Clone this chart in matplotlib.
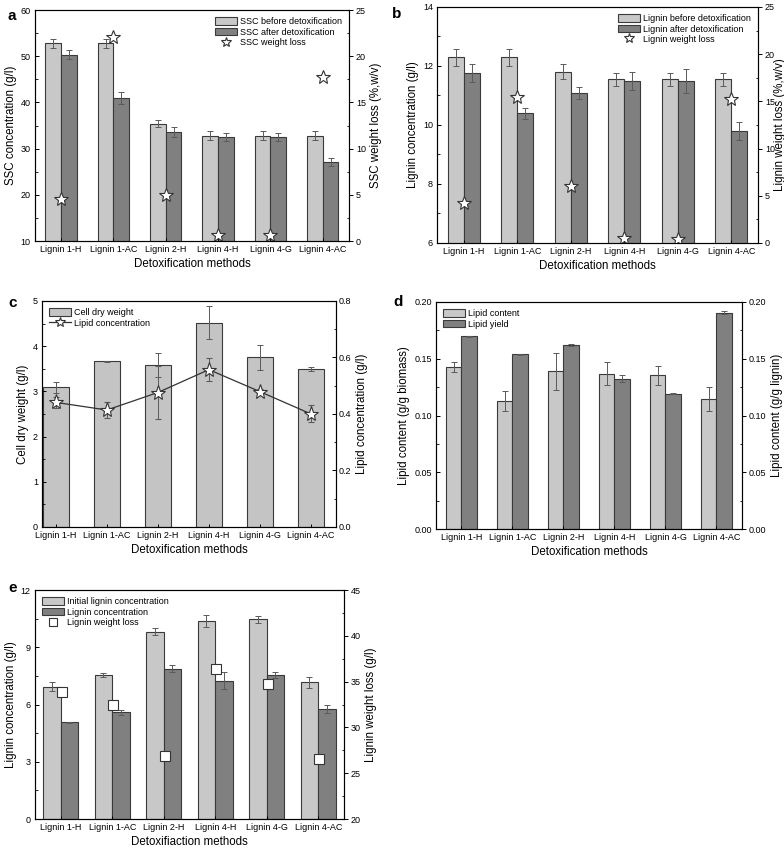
import numpy as np
import matplotlib
matplotlib.use('Agg')
import matplotlib.pyplot as plt
from matplotlib.patches import Patch
from matplotlib.lines import Line2D

plt.rcParams['font.family'] = ['Liberation Sans', 'DejaVu Sans']
plt.rcParams['font.size'] = 6.5

methods = ['Lignin 1-H', 'Lignin 1-AC', 'Lignin 2-H', 'Lignin 4-H', 'Lignin 4-G', 'Lignin 4-AC']

# a: SSC
ssc_before = [52.8, 52.8, 35.4, 32.8, 32.8, 32.8]
ssc_before_err = [1.0, 1.0, 0.8, 1.0, 1.0, 1.0]
ssc_after = [50.3, 41.0, 33.6, 32.5, 32.5, 27.1]
ssc_after_err = [1.0, 1.3, 1.1, 0.8, 0.8, 0.8]
ssc_loss = [4.6, 22.1, 5.0, 0.6, 0.6, 17.7]

# b: lignin
lig_before = [12.29, 12.29, 11.81, 11.55, 11.55, 11.55]
lig_before_err = [0.3, 0.3, 0.25, 0.22, 0.22, 0.22]
lig_after = [11.77, 10.39, 11.09, 11.49, 11.50, 9.79]
lig_after_err = [0.3, 0.2, 0.2, 0.3, 0.4, 0.3]
lig_loss = [4.2, 15.5, 6.0, 0.5, 0.4, 15.2]

# c: cell dry weight / lipid concentration
cdw = [3.09, 3.67, 3.58, 4.52, 3.75, 3.50]
cdw_err = [0.12, 0.01, 0.26, 0.36, 0.28, 0.04]
lipid_conc = [0.441, 0.414, 0.476, 0.557, 0.479, 0.400]
lipid_conc_err = [0.02, 0.028, 0.093, 0.04, 0.01, 0.03]

# d: lipid content / yield
lipid_content = [0.1427, 0.1127, 0.1389, 0.1369, 0.1354, 0.1148]
lipid_content_err = [0.0047, 0.0088, 0.016, 0.010, 0.0085, 0.0107]
lipid_yield = [0.1697, 0.1539, 0.1618, 0.1325, 0.1192, 0.1906]
lipid_yield_err = [0.0002, 0.0005, 0.001, 0.003, 0.0005, 0.0015]

# e: lignin consumption
init_lig = [6.93, 7.53, 9.82, 10.39, 10.46, 7.16]
init_lig_err = [0.23, 0.1, 0.2, 0.3, 0.2, 0.3]
lig_conc = [5.07, 5.59, 7.88, 7.25, 7.53, 5.76]
lig_conc_err = [0.02, 0.12, 0.2, 0.46, 0.15, 0.2]
lig_wloss = [33.9, 32.4, 26.9, 36.4, 34.7, 26.5]
lig_wloss_err = [0.3, 0.3, 0.3, 0.3, 0.3, 0.3]

LIGHT = '#c8c8c8'
DARK = '#808080'
EDGE = '#3a3a3a'
ERRC = '#5a5a5a'
ekw = dict(ecolor=ERRC, elinewidth=0.7, capsize=2, capthick=0.7)

x = np.arange(len(methods))
fig = plt.figure(figsize=(7.84, 8.49), dpi=100)


def style(ax, xlabel, ylabel):
    ax.set_xlim(-0.5, 5.5)
    ax.set_xticks(x)
    ax.set_xticklabels(methods)
    ax.set_xlabel(xlabel, fontsize=8.3, labelpad=3)
    ax.set_ylabel(ylabel, fontsize=8.3, labelpad=3)
    ax.tick_params(axis='both', direction='in', length=3, width=0.7, pad=3)
    ax.tick_params(axis='x', length=2.5)
    ax.tick_params(which='minor', direction='in', length=1.8, width=0.6)
    for s in ax.spines.values():
        s.set_linewidth(0.8)
        s.set_color('#333333')


def style_right(ax2, ylabel, labelpad=3):
    ax2.set_ylabel(ylabel, fontsize=8.3, labelpad=labelpad)
    ax2.tick_params(axis='y', direction='out', length=3, width=0.7, pad=2)
    ax2.tick_params(which='minor', direction='in', length=1.8, width=0.6)


# ---------------- panel a
ax = fig.add_axes([0.0446, 0.7161, 0.4005, 0.2721])
w = 0.3
ax.bar(x - w / 2, ssc_before, w, bottom=0, color=LIGHT, edgecolor=EDGE, lw=0.8,
       yerr=ssc_before_err, error_kw=ekw)
ax.bar(x + w / 2, ssc_after, w, color=DARK, edgecolor=EDGE, lw=0.8,
       yerr=ssc_after_err, error_kw=ekw)
ax.set_ylim(10, 60)
ax.set_yticks(np.arange(10, 61, 10))
ax.set_yticks(np.arange(15, 60, 10), minor=True)
style(ax, 'Detoxification methods', 'SSC concentration (g/l)')
ax2 = ax.twinx()
ax2.plot(x, ssc_loss, ls='none', marker='*', ms=10, mfc='white', mec='#333333', mew=0.8)
ax2.set_ylim(0, 25)
ax2.set_yticks(np.arange(0, 26, 5))
ax2.set_yticks(np.arange(2.5, 25, 5), minor=True)
style_right(ax2, 'SSC weight loss (%,w/v)')
ax2.spines[:].set_linewidth(0.8)
h = [Patch(facecolor=LIGHT, edgecolor=EDGE, lw=0.8), Patch(facecolor=DARK, edgecolor=EDGE, lw=0.8),
     Line2D([], [], ls='none', marker='*', ms=7, mfc='white', mec='#333333', mew=0.8)]
ax2.legend(h, ['SSC before detoxification', 'SSC after detoxification', 'SSC weight loss'],
           loc='upper right', frameon=False, fontsize=6.5, handlelength=2.4, handleheight=0.9,
           labelspacing=0.15, handletextpad=0.3, borderaxespad=0.4)

# ---------------- panel b
ax = fig.add_axes([0.5574, 0.7138, 0.4094, 0.278])
ax.bar(x - w / 2, lig_before, w, color=LIGHT, edgecolor=EDGE, lw=0.8,
       yerr=lig_before_err, error_kw=ekw)
ax.bar(x + w / 2, lig_after, w, color=DARK, edgecolor=EDGE, lw=0.8,
       yerr=lig_after_err, error_kw=ekw)
ax.set_ylim(6, 14)
ax.set_yticks(np.arange(6, 15, 2))
ax.set_yticks(np.arange(7, 14, 2), minor=True)
style(ax, 'Detoxification methods', 'Lignin concentration (g/l)')
ax2 = ax.twinx()
ax2.plot(x, lig_loss, ls='none', marker='*', ms=10, mfc='white', mec='#333333', mew=0.8)
ax2.set_ylim(0, 25)
ax2.set_yticks(np.arange(0, 26, 5))
ax2.set_yticks(np.arange(2.5, 25, 5), minor=True)
style_right(ax2, 'Lignin weight loss (%,w/v)', labelpad=-1)
h = [Patch(facecolor=LIGHT, edgecolor=EDGE, lw=0.8), Patch(facecolor=DARK, edgecolor=EDGE, lw=0.8),
     Line2D([], [], ls='none', marker='*', ms=7, mfc='white', mec='#333333', mew=0.8)]
ax2.legend(h, ['Lignin before detoxification', 'Lignin after detoxification', 'Lignin weight loss'],
           loc='upper right', frameon=False, fontsize=6.5, handlelength=2.4, handleheight=0.9,
           labelspacing=0.15, handletextpad=0.3, borderaxespad=0.4)

# ---------------- panel c
ax = fig.add_axes([0.0536, 0.3793, 0.375, 0.2662])
ax.bar(x, cdw, 0.5, color='#c4c4c4', edgecolor=EDGE, lw=0.8, yerr=cdw_err, error_kw=ekw)
ax.set_ylim(0, 5)
ax.set_yticks(np.arange(0, 6, 1))
ax.set_yticks(np.arange(0.5, 5, 1), minor=True)
style(ax, 'Detoxification methods', 'Cell dry weight (g/l)')
ax.set_xlim(-0.27, 5.49)
ax2 = ax.twinx()
ax2.errorbar(x, lipid_conc, yerr=lipid_conc_err, color='#333333', lw=0.9, marker='*', ms=11,
             mfc='white', mec='#333333', mew=0.8, **ekw)
ax2.set_ylim(0, 0.8)
ax2.set_yticks(np.arange(0, 0.81, 0.2))
ax2.set_yticks(np.arange(0.1, 0.8, 0.2), minor=True)
ax2.set_yticklabels(['0.0', '0.2', '0.4', '0.6', '0.8'])
style_right(ax2, 'Lipid concentration (g/l)')
ax2.tick_params(axis='y', direction='in')
h = [Patch(facecolor='#c4c4c4', edgecolor=EDGE, lw=0.8),
     Line2D([], [], color='#333333', lw=0.9, marker='*', ms=7, mfc='white', mec='#333333', mew=0.8)]
ax2.legend(h, ['Cell dry weight', 'Lipid concentration'], loc='upper left', frameon=False,
           fontsize=6.5, handlelength=2.4, handleheight=0.9, labelspacing=0.15,
           handletextpad=0.3, borderaxespad=0.4)

# ---------------- panel d
ax = fig.add_axes([0.5561, 0.3769, 0.3903, 0.2674])
ax.bar(x - w / 2, lipid_content, w, color=LIGHT, edgecolor=EDGE, lw=0.8,
       yerr=lipid_content_err, error_kw=ekw)
ax.bar(x + w / 2, lipid_yield, w, color=DARK, edgecolor=EDGE, lw=0.8,
       yerr=lipid_yield_err, error_kw=ekw)
ax.set_ylim(0, 0.2)
ax.set_yticks(np.arange(0, 0.201, 0.05))
ax.set_yticks(np.arange(0.025, 0.2, 0.05), minor=True)
ax.set_yticklabels(['0.00', '0.05', '0.10', '0.15', '0.20'])
style(ax, 'Detoxification methods', 'Lipid content (g/g biomass)')
ax2 = ax.twinx()
ax2.set_ylim(0, 0.2)
ax2.set_yticks(np.arange(0, 0.201, 0.05))
ax2.set_yticks(np.arange(0.025, 0.2, 0.05), minor=True)
ax2.set_yticklabels(['0.00', '0.05', '0.10', '0.15', '0.20'])
style_right(ax2, 'Lipid content (g/g lignin)')
h = [Patch(facecolor=LIGHT, edgecolor=EDGE, lw=0.8), Patch(facecolor=DARK, edgecolor=EDGE, lw=0.8)]
ax2.legend(h, ['Lipid content', 'Lipid yield'], loc='upper left', frameon=False,
           fontsize=6.5, handlelength=2.4, handleheight=0.9, labelspacing=0.15,
           handletextpad=0.3, borderaxespad=0.4)

# ---------------- panel e
ax = fig.add_axes([0.0446, 0.0353, 0.3941, 0.2697])
we = 0.34
ax.bar(x - we / 2, init_lig, we, color=LIGHT, edgecolor=EDGE, lw=0.8,
       yerr=init_lig_err, error_kw=ekw)
ax.bar(x + we / 2, lig_conc, we, color=DARK, edgecolor=EDGE, lw=0.8,
       yerr=lig_conc_err, error_kw=ekw)
ax.set_ylim(0, 12)
ax.set_yticks(np.arange(0, 13, 3))
ax.set_yticks(np.arange(1.5, 12, 3), minor=True)
style(ax, 'Detoxifiaction methods', 'Lignin concentration (g/l)')
ax2 = ax.twinx()
ax2.errorbar(x + 0.02, lig_wloss, yerr=lig_wloss_err, ls='none', marker='s', ms=7,
             mfc='white', mec='#333333', mew=0.8, **ekw)
ax2.set_ylim(20, 45)
ax2.set_yticks(np.arange(20, 46, 5))
ax2.set_yticks(np.arange(22.5, 45, 5), minor=True)
style_right(ax2, 'Lignin weight loss (g/l)')
h = [Patch(facecolor=LIGHT, edgecolor=EDGE, lw=0.8), Patch(facecolor=DARK, edgecolor=EDGE, lw=0.8),
     Line2D([], [], ls='none', marker='s', ms=5.5, mfc='white', mec='#333333', mew=0.8)]
ax2.legend(h, ['Initial lignin concentration', 'Lignin concentration', 'Lignin weight loss'],
           loc='upper left', frameon=False, fontsize=6.5, handlelength=2.4, handleheight=0.9,
           labelspacing=0.15, handletextpad=0.3, borderaxespad=0.4)

# panel letters
for lbl, px, py in [('a', 7, 16), ('b', 392, 14), ('c', 8, 303), ('d', 393, 302), ('e', 8, 588)]:
    fig.text(px / 784, 1 - py / 849, lbl, fontsize=11, fontweight='bold', va='center')

fig.savefig('out.png', dpi=100)
